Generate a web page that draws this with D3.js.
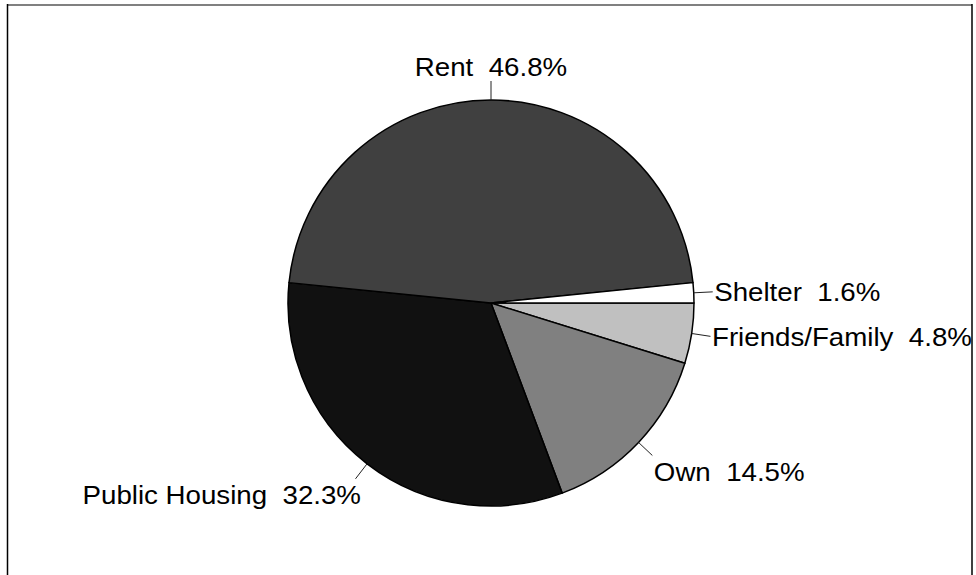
<!DOCTYPE html>
<html>
<head>
<meta charset="utf-8">
<script src="https://cdn.jsdelivr.net/npm/d3@7"></script>
<style>
  html, body { margin: 0; padding: 0; background: #fff; }
  svg { display: block; }
  text { font-family: "Liberation Sans", Arial, sans-serif; font-size: 26px; fill: #000; white-space: pre; }
</style>
</head>
<body>
<svg id="chart" width="976" height="575"></svg>
<script>
// Housing situation shares, in drawing order (clockwise from 3 o'clock)
const categories = ["Friends/Family", "Own", "Public Housing", "Rent", "Shelter"];
const values = [4.8, 14.5, 32.3, 46.8, 1.6];
const fills = ["#c0c0c0", "#808080", "#111111", "#404040", "#ffffff"];

const W = 976, H = 575;
const cx = 491, cy = 303, R = 203, leaderLen = 19;

const svg = d3.select("#chart");

// frame around the chart area
svg.append("line").attr("x1", 7).attr("x2", 972).attr("y1", 5).attr("y2", 5)
  .attr("stroke", "#808080").attr("stroke-width", 2);
svg.append("line").attr("x1", 7.5).attr("x2", 7.5).attr("y1", 4).attr("y2", H)
  .attr("stroke", "#000").attr("stroke-width", 1.5);
svg.append("line").attr("x1", 972).attr("x2", 972).attr("y1", 4).attr("y2", H)
  .attr("stroke", "#000").attr("stroke-width", 1.5);

const pie = d3.pie().sort(null).value(d => d.value)
  .startAngle(Math.PI / 2).endAngle(Math.PI / 2 + 2 * Math.PI);
const data = categories.map((c, i) => ({ name: c, value: values[i], fill: fills[i] }));
const arcs = pie(data);
const arc = d3.arc().innerRadius(0).outerRadius(R);

const g = svg.append("g").attr("transform", `translate(${cx},${cy})`);

g.selectAll("path.slice").data(arcs).enter().append("path")
  .attr("class", "slice")
  .attr("d", arc)
  .attr("fill", d => d.data.fill)
  .attr("stroke", "#000")
  .attr("stroke-width", 1.5)
  .attr("stroke-linejoin", "round");

// leader lines and labels
const capH = 18.6;
arcs.forEach(d => {
  const mid = (d.startAngle + d.endAngle) / 2;
  const sx = Math.sin(mid), cyv = -Math.cos(mid);
  const p0 = [R * sx, R * cyv];
  const p1 = [(R + leaderLen) * sx, (R + leaderLen) * cyv];
  g.append("line")
    .attr("x1", p0[0]).attr("y1", p0[1]).attr("x2", p1[0]).attr("y2", p1[1])
    .attr("stroke", "#222").attr("stroke-width", 1);

  let anchor, tx, ty;
  if (Math.abs(sx) < 0.3) { anchor = "middle"; tx = p1[0]; }
  else if (sx > 0) { anchor = "start"; tx = p1[0] + 1.5; }
  else { anchor = "end"; tx = p1[0] + 5.5; }
  const up = Math.cos(mid);
  if (up > 0.3) ty = p1[1] - 5;
  else if (up < -0.3) ty = p1[1] + 6.5 + capH;
  else ty = p1[1] + capH / 2;

  g.append("text")
    .attr("transform", `translate(${tx},${ty}) scale(1.065,1)`)
    .attr("text-anchor", anchor)
    .text(`${d.data.name}  ${d3.format(".1f")(d.data.value)}%`);
});
</script>
</body>
</html>
